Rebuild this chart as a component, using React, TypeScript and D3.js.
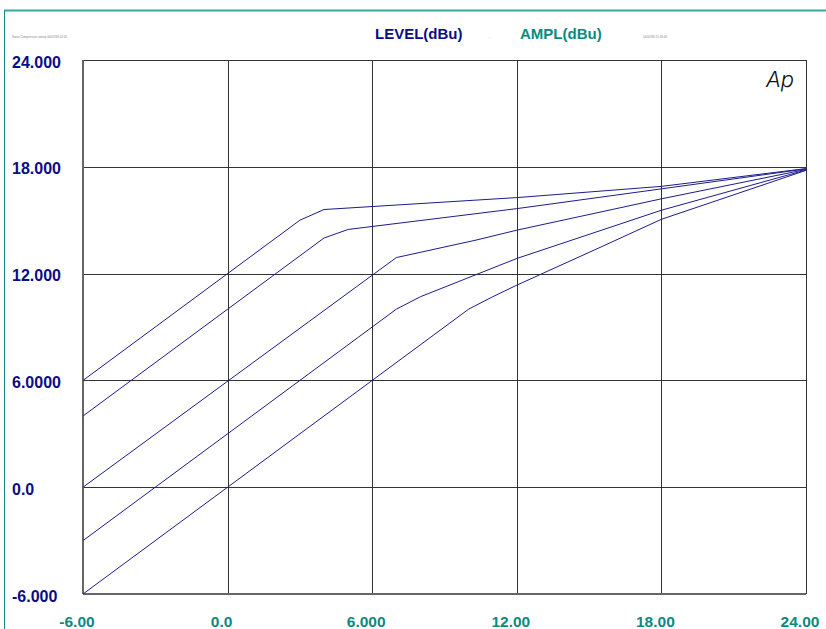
import React, { useRef, useEffect } from 'react';
import * as d3 from 'd3';

// input level (dBu) / output amplitude (dBu), one pair per curve
const curve1X = [-6, 3, 4, 12, 18, 24];
const curve1Y = [6, 15, 15.6, 16.27, 16.9, 17.9];
const curve2X = [-6, 4, 5, 12, 18, 24];
const curve2Y = [4, 14, 14.48, 15.65, 16.76, 17.88];
const curve3X = [-6, 7, 10.3, 12, 18, 24];
const curve3Y = [0, 12.9, 13.88, 14.44, 16.2, 17.85];
const curve4X = [-6, 7, 8, 12, 18, 24];
const curve4Y = [-3, 10, 10.7, 12.85, 15.56, 17.82];
const curve5X = [-6, 10, 11, 12, 15.5, 18, 24];
const curve5Y = [-6, 10, 10.7, 11.35, 13.5, 15.05, 17.8];

const xTicks = [-6, 0, 6, 12, 18, 24];
const xTickLabels = ['-6.00', '0.0', '6.000', '12.00', '18.00', '24.00'];
const yTicks = [24, 18, 12, 6, 0, -6];
const yTickLabels = ['24.000', '18.000', '12.000', '6.0000', '0.0', '-6.000'];

const NAVY = '#0c0c84';
const TEAL = '#0a8a80';
const FONT = 'Liberation Sans, Arial, sans-serif';

const App: React.FC = () => {
    const svgRef = useRef<SVGSVGElement | null>(null);

    useEffect(() => {
        if (!svgRef.current) return;
        const width = 826;
        const height = 629;
        const margin = { top: 60, right: 20, bottom: 35, left: 83 };

        const svg = d3.select(svgRef.current)
            .attr('width', width)
            .attr('height', height);
        svg.selectAll('*').remove();

        const x = d3.scaleLinear().domain([-6, 24]).range([margin.left, width - margin.right]);
        const y = d3.scaleLinear().domain([-6, 24]).range([height - margin.bottom, margin.top]);

        svg.append('rect').attr('width', width).attr('height', height).attr('fill', 'white');

        // teal page frame
        svg.append('line')
            .attr('x1', 4).attr('x2', width).attr('y1', 10.5).attr('y2', 10.5)
            .attr('stroke', '#3aa59c').attr('stroke-width', 2);
        svg.append('line')
            .attr('x1', 4.5).attr('x2', 4.5).attr('y1', 10).attr('y2', height)
            .attr('stroke', '#1b8c85').attr('stroke-width', 1);

        // grid
        const grid = svg.append('g');
        grid.selectAll('.vgrid')
            .data(xTicks)
            .enter().append('line')
            .attr('x1', d => Math.round(x(d)) + 0.5)
            .attr('x2', d => Math.round(x(d)) + 0.5)
            .attr('y1', y(24)).attr('y2', y(-6))
            .attr('stroke', '#333').attr('stroke-width', 1);
        grid.selectAll('.hgrid')
            .data(yTicks)
            .enter().append('line')
            .attr('y1', d => Math.round(y(d)) + 0.5)
            .attr('y2', d => Math.round(y(d)) + 0.5)
            .attr('x1', x(-6)).attr('x2', x(24))
            .attr('stroke', '#333').attr('stroke-width', 1);
        // heavier left/bottom border
        svg.append('line')
            .attr('x1', x(-6)).attr('x2', x(-6)).attr('y1', y(24)).attr('y2', y(-6))
            .attr('stroke', '#666').attr('stroke-width', 2);
        svg.append('line')
            .attr('x1', x(-6)).attr('x2', x(24)).attr('y1', y(-6)).attr('y2', y(-6))
            .attr('stroke', '#666').attr('stroke-width', 2);

        // curves
        const curves = [
            [curve1X, curve1Y], [curve2X, curve2Y], [curve3X, curve3Y],
            [curve4X, curve4Y], [curve5X, curve5Y],
        ];
        const line = d3.line<[number, number]>()
            .x(d => x(d[0]))
            .y(d => y(d[1]));
        curves.forEach(([xs, ys]) => {
            const pts = xs.map((v, i) => [v, ys[i]] as [number, number]);
            svg.append('path')
                .attr('d', line(pts))
                .attr('fill', 'none')
                .attr('stroke', '#1c1c8e')
                .attr('stroke-width', 1);
        });

        // y tick labels
        svg.selectAll('.ylab')
            .data(yTicks)
            .enter().append('text')
            .attr('x', 12)
            .attr('y', d => y(d) + 7.5)
            .attr('fill', NAVY)
            .attr('font-family', FONT)
            .attr('font-weight', 'bold')
            .attr('font-size', 16)
            .text((_, i) => yTickLabels[i]);

        // x tick labels
        svg.selectAll('.xlab')
            .data(xTicks)
            .enter().append('text')
            .attr('x', d => x(d) - 6)
            .attr('y', 627)
            .attr('text-anchor', 'middle')
            .attr('fill', TEAL)
            .attr('font-family', FONT)
            .attr('font-weight', 'bold')
            .attr('font-size', 15.5)
            .text((_, i) => xTickLabels[i]);

        // header
        svg.append('text')
            .attr('x', 375).attr('y', 39)
            .attr('fill', NAVY)
            .attr('font-family', FONT).attr('font-weight', 'bold').attr('font-size', 15)
            .text('LEVEL(dBu)');
        svg.append('text')
            .attr('x', 520).attr('y', 39)
            .attr('fill', TEAL)
            .attr('font-family', FONT).attr('font-weight', 'bold').attr('font-size', 15)
            .text('AMPL(dBu)');
        svg.append('text')
            .attr('x', 489).attr('y', 38)
            .attr('fill', '#999')
            .attr('font-family', FONT).attr('font-size', 4)
            .text('-');
        svg.append('text')
            .attr('x', 12).attr('y', 38)
            .attr('fill', '#888')
            .attr('font-family', FONT).attr('font-size', 3)
            .text('Noise Compressor sweep 04/02/98 02:45');
        svg.append('text')
            .attr('x', 643).attr('y', 38)
            .attr('fill', '#888')
            .attr('font-family', FONT).attr('font-size', 3)
            .text('04/02/98 21:33:46');

        // Ap logo
        svg.append('text')
            .attr('x', 766).attr('y', 87)
            .attr('fill', '#111')
            .attr('font-family', 'Inter, sans-serif')
            .attr('font-weight', 300)
            .attr('font-style', 'italic')
            .attr('font-size', 22)
            .text('Ap');
    }, []);

    return (
        <svg
            ref={svgRef}
            style={{ position: 'absolute', left: 0, top: 0, display: 'block' }}
        ></svg>
    );
};

export default App;
